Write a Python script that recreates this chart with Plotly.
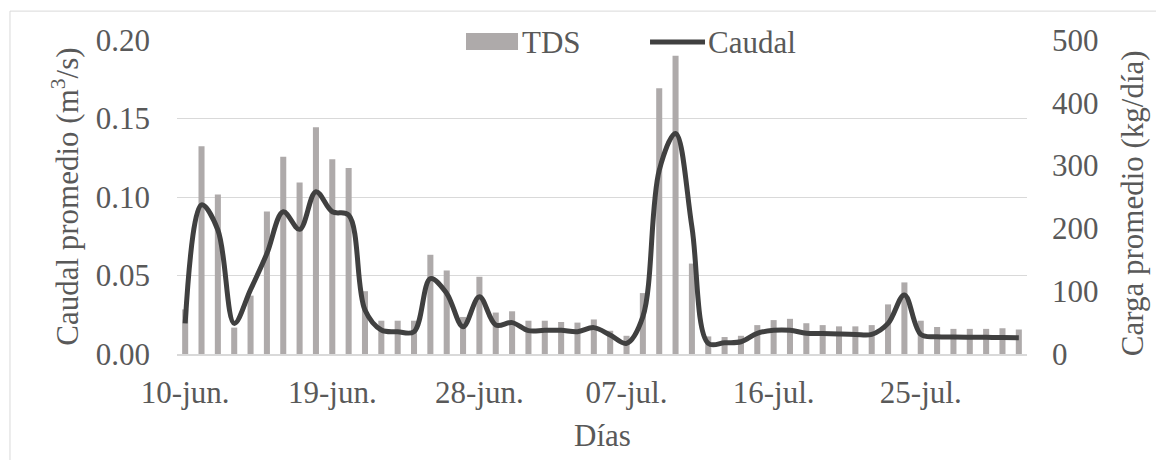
import plotly.graph_objects as go

# ---- data ----
dias = [f"{d:02d}-jun." for d in range(10, 31)] + [f"{d:02d}-jul." for d in range(1, 32)]
tick_labels = ["10-jun.", "19-jun.", "28-jun.", "07-jul.", "16-jul.", "25-jul."]

tds = [71, 331, 254, 42, 93, 227, 314, 273, 361, 310, 296, 100, 53, 53, 53, 158, 133,
       59, 123, 66, 68, 53, 53, 51, 50, 55, 37, 29, 97, 423, 475, 144, 28, 27,
       29, 46, 54, 56, 49, 46, 44, 44, 46, 79, 114, 53, 43, 40, 40, 40, 41, 39]

caudal = [0.0195, 0.095, 0.079, 0.0195, 0.041, 0.064, 0.0906, 0.0794, 0.1034, 0.0906, 0.0885,
          0.028, 0.0153, 0.0142, 0.0142, 0.048, 0.0386,
          0.0174, 0.0365, 0.0185, 0.020, 0.0149, 0.0151, 0.0151, 0.0142, 0.0168, 0.0121,
          0.0068, 0.0238, 0.117, 0.1405, 0.081, 0.0068, 0.0072,
          0.0078, 0.0132, 0.0151, 0.0151, 0.0132, 0.013, 0.0127, 0.0125, 0.0125, 0.0195,
          0.0376, 0.0125, 0.011, 0.0108, 0.0107, 0.0106, 0.0105, 0.0104]

FONT = "Liberation Serif, Times New Roman, DejaVu Serif, serif"
TXT = "#595959"
FS = 31
BAR_C = "#AEAAAA"
LINE_C = "#404040"

fig = go.Figure()
fig.add_trace(go.Bar(x=dias, y=tds, name="TDS", marker_color=BAR_C,
                     marker_line_width=0, width=0.37, yaxis="y", showlegend=False))
fig.add_trace(go.Scatter(x=dias, y=caudal, name="Caudal", mode="lines",
                         line=dict(color=LINE_C, width=5, shape="spline", smoothing=1.0),
                         yaxis="y2", showlegend=False))

def txt(text, x, y, xanchor="center", angle=0):
    return dict(text=text, textangle=angle, xref="paper", yref="paper", x=x, y=y,
                xanchor=xanchor, yanchor="middle", showarrow=False,
                font=dict(size=FS, color=TXT, family=FONT))

fig.update_layout(
    width=1156, height=460,
    margin=dict(l=177, r=129, t=40, b=106, autoexpand=False),
    paper_bgcolor="white", plot_bgcolor="white",
    font=dict(family=FONT, size=FS, color=TXT),
    showlegend=False,
    xaxis=dict(type="category", tickmode="array", tickvals=tick_labels, ticktext=tick_labels,
               showgrid=False, showline=True, linecolor="#D9D9D9", linewidth=1.5,
               ticks="", ticklabelstandoff=10, range=[-0.5, len(dias) - 0.5],
               automargin=False),
    yaxis=dict(side="right", range=[0, 500], dtick=100, showgrid=False, zeroline=False,
               ticks="", ticklabelstandoff=24, automargin=False),
    yaxis2=dict(side="left", overlaying="y", range=[0, 0.2], dtick=0.05, tickformat=".2f",
                showgrid=True, gridcolor="#D9D9D9", gridwidth=1, zeroline=False,
                ticks="", ticklabelstandoff=26, automargin=False),
    annotations=[
        txt("Caudal promedio (m<sup>3</sup>/s)", -0.132, 0.5, angle=-90),
        txt("Carga promedio (kg/día)", 1.1235, 0.48, angle=-90),
        txt("Días", 0.5, -0.261),
        txt("TDS", 0.404, 0.9936, xanchor="left"),
        txt("Caudal", 0.622, 0.9936, xanchor="left"),
    ],
    shapes=[
        dict(type="rect", xref="paper", yref="paper", x0=-0.1965, x1=1.2,
             y0=-0.4, y1=1.092, line=dict(color="#D9D9D9", width=1),
             fillcolor="rgba(0,0,0,0)", layer="below"),
        dict(type="rect", xref="paper", yref="paper", x0=0.34, x1=0.4012,
             y0=0.968, y1=1.0223, line=dict(width=0), fillcolor=BAR_C, layer="above"),
        dict(type="line", xref="paper", yref="paper", x0=0.5565, x1=0.6212,
             y0=0.9936, y1=0.9936, line=dict(color=LINE_C, width=5), layer="above"),
    ],
)

fig.write_html("out.html", config={"displayModeBar": False},
               post_script="document.body.style.margin='0';")
